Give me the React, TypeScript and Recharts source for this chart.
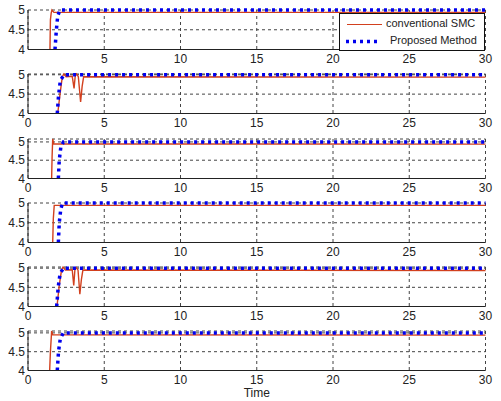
import React from 'react';
import { LineChart, Line, XAxis, YAxis, CartesianGrid, Legend } from 'recharts';

const xTicks = [0, 5, 10, 15, 20, 25, 30];
const yTicks = [4, 4.5, 5];

// conventional SMC, one row per subplot
const redTime = [
  [1.44, 1.47, 1.52, 1.57, 1.7, 30],
  [1.95, 2.1, 2.25, 2.35, 2.5, 2.9, 3.02, 3.1, 3.18, 3.3, 3.45, 3.55, 3.65, 30],
  [1.55, 1.58, 1.62, 1.68, 30],
  [1.62, 1.66, 1.72, 30],
  [1.9, 2.05, 2.2, 2.3, 2.45, 2.9, 3.0, 3.08, 3.15, 3.28, 3.4, 3.5, 3.6, 30],
  [1.42, 1.47, 1.55, 1.62, 30],
];
const redVal = [
  [4, 4.75, 4.92, 5, 4.94, 4.94],
  [4, 4.5, 4.95, 5.02, 4.95, 4.96, 4.65, 4.98, 5.02, 4.95, 4.3, 4.7, 4.95, 4.94],
  [4, 4.6, 5.08, 4.95, 4.94],
  [4, 4.6, 4.94, 4.94],
  [4, 4.55, 4.95, 5.03, 4.95, 4.96, 4.55, 4.98, 5.02, 4.95, 4.32, 4.7, 4.95, 4.94],
  [4, 4.5, 5.05, 4.95, 4.94],
];

// proposed method
const blueTime = [
  [1.77, 1.86, 1.95, 2.1, 30],
  [1.92, 2.0, 2.12, 2.36, 30],
  [1.99, 2.05, 2.15, 2.32, 30],
  [1.99, 2.05, 2.15, 2.27, 30],
  [1.88, 1.98, 2.1, 2.32, 30],
  [1.92, 2.0, 2.12, 2.32, 30],
];
const blueVal = [
  [4, 4.5, 4.85, 5, 5],
  [4, 4.45, 4.85, 5, 5],
  [4, 4.5, 4.85, 5, 5],
  [4, 4.5, 4.85, 5, 5],
  [4, 4.5, 4.85, 5, 5],
  [4, 4.5, 4.85, 5, 5],
];

const panelTops = [9.5, 74.3, 138.5, 202.7, 266.7, 330.7];
const PLOT_H = 39.5;
const PAD = 6;
const FONT = '"Liberation Sans", Arial, sans-serif';
const RED = '#d2401e';
const BLUE = '#0000ee';

const zip = (t: number[], v: number[]) => t.map((x, i) => ({ t: x, v: v[i] }));

const LegendBox = () => (
  <div
    style={{
      width: 144,
      height: 36,
      border: '1px solid #111',
      background: '#fff',
      fontFamily: FONT,
      fontSize: 11,
      color: '#222',
      position: 'relative',
    }}
  >
    <svg width={44} height={36} style={{ position: 'absolute', left: 0, top: 0 }}>
      <line x1={7} x2={42} y1={10.5} y2={10.5} stroke={RED} strokeWidth={1} />
      <line x1={6} x2={40} y1={27.5} y2={27.5} stroke={BLUE} strokeWidth={3.5} strokeDasharray="3 4" />
    </svg>
    <span style={{ position: 'absolute', left: 46, top: 3 }}>conventional SMC</span>
    <span style={{ position: 'absolute', left: 50, top: 20 }}>Proposed Method</span>
  </div>
);

const Panel = ({ idx }: { idx: number }) => {
  const last = idx === 5;
  const xh = last ? 30 : 20;
  const red = zip(redTime[idx], redVal[idx]);
  const blue = zip(blueTime[idx], blueVal[idx]);
  const tickStyle = { fill: '#222', fontSize: 12, fontFamily: FONT };
  return (
    <div style={{ position: 'absolute', left: 0, top: panelTops[idx] - PAD }}>
      <LineChart
        width={501}
        height={PAD + PLOT_H + xh}
        margin={{ top: PAD, right: 15.5, bottom: 0, left: 0 }}
      >
        <CartesianGrid stroke="#444" strokeDasharray="3 3" />
        <XAxis
          dataKey="t"
          type="number"
          domain={[0, 30]}
          ticks={xTicks}
          interval={0}
          height={xh}
          tickSize={0}
          tickMargin={5}
          tick={tickStyle}
          axisLine={{ stroke: '#222' }}
          tickFormatter={(v: number) => (idx === 0 && v === 0 ? '' : String(v))}
          label={
            last
              ? { value: 'Time', position: 'insideBottom', offset: 4, fill: '#222', fontSize: 12, fontFamily: FONT }
              : undefined
          }
        />
        <YAxis
          type="number"
          domain={[4, 5]}
          ticks={yTicks}
          interval={0}
          width={28}
          tickSize={0}
          tickMargin={3}
          tick={tickStyle}
          axisLine={{ stroke: '#222' }}
        />
        <Line data={red} dataKey="v" name="conventional SMC" type="linear" stroke={RED} strokeWidth={1.4} dot={false} isAnimationActive={false} />
        <Line data={blue} dataKey="v" name="Proposed Method" type="linear" stroke={BLUE} strokeWidth={3.5} strokeDasharray="3 4" dot={false} isAnimationActive={false} />
        {idx === 0 && (
          <Legend
            layout="horizontal"
            verticalAlign="middle"
            align="center"
            content={() => <LegendBox />}
            wrapperStyle={{ left: 339, top: 13.3 - (panelTops[0] - PAD), width: 146, height: 38 }}
          />
        )}
      </LineChart>
    </div>
  );
};

export default function App() {
  return (
    <div style={{ position: 'absolute', left: 0, top: 0, width: 501, height: 401, background: '#fff' }}>
      {panelTops.map((_, i) => (
        <Panel key={i} idx={i} />
      ))}
    </div>
  );
}
